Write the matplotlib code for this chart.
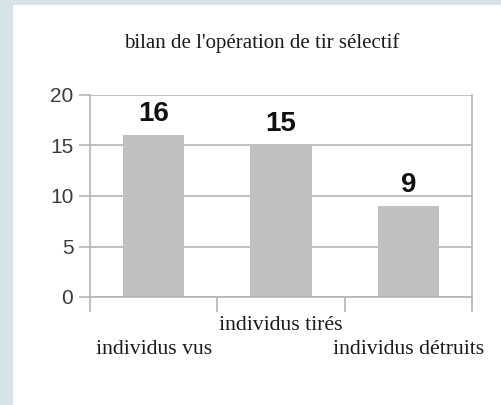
import matplotlib
matplotlib.use("Agg")
import matplotlib.pyplot as plt
from matplotlib.patches import Rectangle

categories = ['individus vus', 'individus tirés', 'individus détruits']
values = [16, 15, 9]
yticks = [0, 5, 10, 15, 20]
title = "bilan de l'opération de tir sélectif"

fig = plt.figure(figsize=(5.02, 4.05), dpi=100)
fig.patch.set_facecolor('#d6e4ea')
# white panel behind the chart
fig.patches.append(Rectangle((13 / 502, 0), 1, 1 - 5 / 405, transform=fig.transFigure,
                             facecolor='white', edgecolor='none', zorder=-10))

ax = fig.add_axes([90 / 502, 1 - 297 / 405, 382 / 502, 202 / 405])
ax.set_facecolor('white')

x = range(len(categories))
ax.bar(x, values, width=0.48, color='#c0c0c0', zorder=2)

for xi, v in zip(x, values):
    ax.annotate(str(v), (xi, v), xytext=(0, 8), textcoords='offset pixels',
                ha='center', va='bottom', fontsize=20, fontweight='bold',
                family='Liberation Sans', color='#111111')

ax.set_xlim(-0.5, 2.5)
ax.set_ylim(0, 20)
ax.set_yticks(yticks)
ax.set_yticklabels([str(t) for t in yticks], family='Liberation Sans', fontsize=15, color='#3c3c3c')
ax.yaxis.grid(True, color='#b4b4b4', linewidth=1.2, zorder=1)
ax.set_axisbelow(True)
ax.tick_params(axis='y', length=8, width=1.2, color='#b4b4b4', pad=4)

ax.set_xticks([-0.5, 0.5, 1.5, 2.5])
ax.set_xticklabels([])
ax.tick_params(axis='x', length=11, width=1.2, color='#b4b4b4')

for side in ['left', 'right', 'bottom']:
    ax.spines[side].set_color('#b4b4b4')
    ax.spines[side].set_linewidth(1.2)
ax.spines['top'].set_visible(False)

# staggered category labels
offsets = [-52, -29, -52]
for xi, lab, off in zip(x, categories, offsets):
    ax.annotate(lab, (xi, 0), xycoords=('data', 'axes fraction'), xytext=(0, off),
                textcoords='offset pixels', ha='center', va='center',
                family='Liberation Serif', fontsize=15.7, color='#1a1a1a')

fig.text(262 / 502, 1 - 43 / 405, title, ha='center', va='center',
         family='Liberation Serif', fontsize=15, color='#1a1a1a')

fig.savefig('out.png', dpi=100, facecolor=fig.get_facecolor())
